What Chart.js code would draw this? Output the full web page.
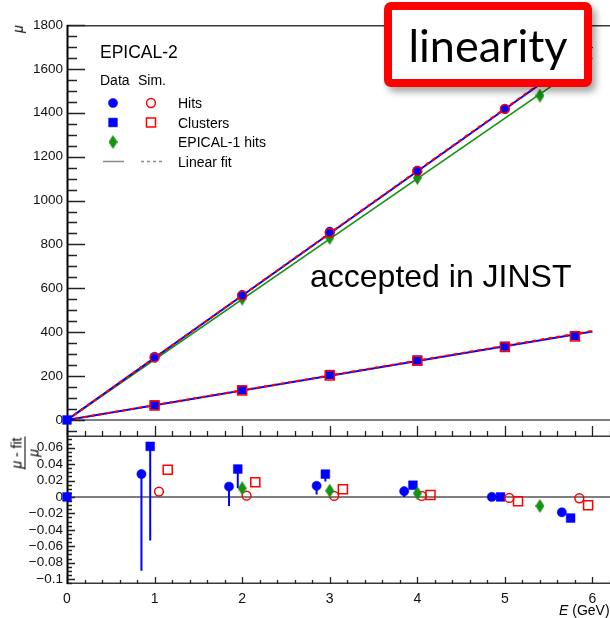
<!DOCTYPE html>
<html><head><meta charset="utf-8">
<script src="https://cdn.jsdelivr.net/npm/chart.js@4.4.1/dist/chart.umd.min.js"></script>
<style>
html,body{margin:0;padding:0;background:#fff;}
#wrap{position:relative;width:610px;height:618px;overflow:hidden;font-family:"Liberation Sans",Arial,sans-serif;color:#000;}
canvas{position:absolute;left:0;}
.t{position:absolute;line-height:1;white-space:nowrap;transform:translateY(-50%);}
#linbox{position:absolute;left:384px;top:2px;width:192px;height:69px;border:8px solid #ff0000;border-radius:7px;background:#fff;box-shadow:4px 5px 7px rgba(0,0,0,0.35);display:flex;align-items:center;justify-content:center;font-family:Lato,"Open Sans",sans-serif;font-size:45px;color:#000;}
</style></head><body>
<div id="wrap">
<canvas id="up" width="610" height="437" style="top:0;width:610px;height:437px"></canvas>
<canvas id="lo" width="610" height="181" style="top:437px;width:610px;height:181px"></canvas>

<div class="t" style="left:100px;top:53px;font-size:17.5px">EPICAL-2</div>
<div class="t" style="left:100px;top:80px;font-size:14px">Data</div>
<div class="t" style="left:138px;top:80px;font-size:14px">Sim.</div>
<div class="t" style="left:178px;top:103px;font-size:14px">Hits</div>
<div class="t" style="left:178px;top:122.5px;font-size:14px">Clusters</div>
<div class="t" style="left:178px;top:142px;font-size:14px">EPICAL-1 hits</div>
<div class="t" style="left:178px;top:161.5px;font-size:14px">Linear fit</div>

<div class="t" style="left:310px;top:276px;font-size:32px">accepted in JINST</div>

<div class="t" style="left:14px;top:29px;font-size:14px;font-style:italic;transform:translateY(-50%) rotate(-90deg)">μ</div>
<div style="position:absolute;left:25px;top:453px;transform:translate(-50%,-50%) rotate(-90deg);display:flex;flex-direction:column;align-items:center;font-size:14px;line-height:1;">
  <div style="white-space:nowrap;padding:0 1px 1px 1px"><i>μ</i> - fit</div>
  <div style="border-top:1px solid #000;width:100%;text-align:center;padding-top:1px"><i>μ</i></div>
</div>
<div class="t" style="left:559px;top:610px;font-size:14px"><i>E</i> (GeV)</div>

<div id="linbox">linearity</div>
</div>
<script>
// ---------------- data ----------------
const energies = [1, 2, 3, 4, 5, 5.8];
const epical1Energies = [2, 3, 4, 5.4];
const originE = [0];
const originVal = [0];

const hitsData = [288, 570, 858, 1137, 1417, 1640];
const hitsSim = [284, 567, 853, 1134, 1418, 1645];
const clustersData = [68, 137, 207, 273, 336, 384];
const clustersSim = [66, 134, 203, 270, 333, 381];
const epical1Hits = [553, 830, 1103, 1478];

const fitRange = [0, 6];
const fitHitsData = [0, 1700];
const fitHitsSim = [0, 1703];
const fitClustersData = [0, 403];
const fitClustersSim = [0, 406];
const fitEpical1 = [0, 1650];

const resHitsData = [0.0278, 0.0126, 0.0135, 0.007, 0.0, -0.0187];
const resHitsDataBarEnd = [-0.090, -0.011, 0.003, 0.0, null, -0.0138];
const resClustersData = [0.0616, 0.034, 0.0278, 0.0143, 0.0, -0.0257];
const resClustersDataBarEnd = [-0.053, 0.0106, 0.0187, null, null, null];
const resEpical1 = [0.0106, 0.0077, 0.0045, -0.011];
const resHitsSim = [0.0065, 0.0016, 0.0012, 0.0012, -0.0012, -0.0016];
const resClustersSim = [0.033, 0.018, 0.0094, 0.0024, -0.0053, -0.0102];

const xTickValues = [0, 1, 2, 3, 4, 5, 6];
const xTickLabels = ['0', '1', '2', '3', '4', '5', '6'];
const upperYTickValues = [0, 200, 400, 600, 800, 1000, 1200, 1400, 1600, 1800];
const upperYTickLabels = ['0', '200', '400', '600', '800', '1000', '1200', '1400', '1600', '1800'];
const lowerYTickValues = [0.06, 0.04, 0.02, 0, -0.02, -0.04, -0.06, -0.08, -0.1];
const lowerYTickLabels = ['0.06', '0.04', '0.02', '0', '\u22120.02', '\u22120.04', '\u22120.06', '\u22120.08', '\u22120.1'];

// ---------------- styling ----------------
const BLUE = '#0000ff', RED = '#ff0000', GREEN = '#139413', GRAY = '#8a8a8a';
const FONT = '"Liberation Sans", Arial, sans-serif';
const offsets = {hitsData: -0.15, clustersData: -0.05, epical1: 0, hitsSim: 0.05, clustersSim: 0.15};

// tall diamond marker (ROOT style 33)
function makeDiamond(w, h, color) {
  const c = document.createElement('canvas');
  c.width = w; c.height = h;
  const g = c.getContext('2d');
  g.fillStyle = color;
  g.beginPath();
  g.moveTo(w / 2, 0); g.lineTo(w, h / 2); g.lineTo(w / 2, h); g.lineTo(0, h / 2); g.closePath();
  g.fill();
  return c;
}
const diamond = makeDiamond(9, 14, GREEN);

function pts(xs, ys, off) {
  return xs.map((x, i) => ({x: x + (off || 0), y: ys[i]})).filter(p => p.y !== null);
}
const markerBlueCircle = {pointStyle: 'circle', pointRadius: 4.6, pointBackgroundColor: BLUE, pointBorderColor: BLUE, pointBorderWidth: 0.5, showLine: false};
const markerBlueSquare = {pointStyle: 'rect', pointRadius: 6.2, pointBackgroundColor: BLUE, pointBorderColor: BLUE, pointBorderWidth: 0.5, showLine: false};
const markerRedCircle = {pointStyle: 'circle', pointRadius: 4.4, pointBackgroundColor: 'rgba(0,0,0,0)', pointBorderColor: RED, pointBorderWidth: 1.5, showLine: false};
const markerRedSquare = {pointStyle: 'rect', pointRadius: 6.4, pointBackgroundColor: 'rgba(0,0,0,0)', pointBorderColor: RED, pointBorderWidth: 1.5, showLine: false};
const markerGreen = {pointStyle: diamond, pointRadius: 6, showLine: false};

function tickPlugin(opts) {
  return {
    id: 'frame' + opts.name,
    beforeDatasetsDraw(chart) {
      const ctx = chart.ctx, ca = chart.chartArea, xs = chart.scales.x, ys = chart.scales.y;
      ctx.save();
      // zero line
      ctx.strokeStyle = '#555'; ctx.lineWidth = 1.5;
      const y0 = ys.getPixelForValue(0);
      ctx.beginPath(); ctx.moveTo(ca.left, y0); ctx.lineTo(ca.right, y0); ctx.stroke();
      // frame lines
      ctx.strokeStyle = '#3a3a3a'; ctx.lineWidth = 1.5;
      ctx.beginPath();
      if (opts.top) { ctx.moveTo(ca.left, ca.top + 0.75); ctx.lineTo(ca.right, ca.top + 0.75); }
      ctx.moveTo(ca.left, ca.bottom - 0.75); ctx.lineTo(ca.right, ca.bottom - 0.75);
      ctx.stroke();
      // y ticks
      ctx.strokeStyle = '#222'; ctx.lineWidth = 1.3;
      ctx.beginPath();
      const n = Math.round((opts.yMax - opts.yMinTick) / opts.yMinor);
      for (let i = 0; i <= n; i++) {
        const v = opts.yMinTick + i * opts.yMinor;
        const isMajor = Math.abs(v / opts.yMajor - Math.round(v / opts.yMajor)) < 1e-6;
        const y = Math.round(ys.getPixelForValue(v)) + 0.5;
        if (y < ca.top - 1 || y > ca.bottom + 1) continue;
        ctx.moveTo(ca.left, y); ctx.lineTo(ca.left + (isMajor ? opts.yMajLen : opts.yMinLen), y);
      }
      // x ticks at bottom pointing up
      for (let i = 0; i <= 31; i++) {
        const v = i * 0.2;
        if (v > 6.2) break;
        const isMajor = i % 5 === 0;
        const x = Math.round(xs.getPixelForValue(v)) + 0.5;
        ctx.moveTo(x, ca.bottom); ctx.lineTo(x, ca.bottom - (isMajor ? opts.xMajLen : opts.xMinLen));
      }
      ctx.stroke();
      // y axis line
      ctx.strokeStyle = '#000'; ctx.lineWidth = 2;
      ctx.beginPath(); ctx.moveTo(ca.left + 0.5, ca.top); ctx.lineTo(ca.left + 0.5, ca.bottom); ctx.stroke();
      if (opts.errorBars) opts.errorBars(chart);
      ctx.restore();
    },
    afterDatasetsDraw(chart) { if (opts.after) opts.after(chart); }
  };
}

function drawLegend(chart) {
  const ctx = chart.ctx;
  const H = Chart.helpers;
  ctx.save();
  function pt(style, r, fill, stroke, bw, x, y) {
    ctx.fillStyle = fill; ctx.strokeStyle = stroke; ctx.lineWidth = bw;
    H.drawPoint(ctx, {pointStyle: style, radius: r, rotation: 0, borderWidth: bw}, x, y);
  }
  pt('circle', 4.6, BLUE, BLUE, 0.5, 113, 103);
  pt('circle', 4.4, 'rgba(0,0,0,0)', RED, 1.5, 151, 103);
  pt('rect', 6.2, BLUE, BLUE, 0.5, 113, 122.5);
  pt('rect', 6.4, 'rgba(0,0,0,0)', RED, 1.5, 151, 122.5);
  ctx.drawImage(diamond, 113 - 4.5, 142 - 7);
  ctx.strokeStyle = GRAY; ctx.lineWidth = 1.5;
  ctx.beginPath(); ctx.moveTo(103, 161.5); ctx.lineTo(124, 161.5); ctx.stroke();
  ctx.setLineDash([3, 3]);
  ctx.beginPath(); ctx.moveTo(141, 161.5); ctx.lineTo(162, 161.5); ctx.stroke();
  ctx.restore();
}

const common = {
  responsive: false, animation: false, devicePixelRatio: 1,
  events: [],
  plugins: {legend: {display: false}, tooltip: {enabled: false}},
};

// ---------------- upper panel ----------------
new Chart(document.getElementById('up'), {
  type: 'scatter',
  data: {datasets: [
    {data: pts(fitRange, fitEpical1), showLine: true, borderColor: GREEN, borderWidth: 1.6, pointRadius: 0, order: 8},
    {data: pts(fitRange, fitHitsData), showLine: true, borderColor: BLUE, borderWidth: 2, pointRadius: 0, order: 7},
    {data: pts(fitRange, fitClustersData), showLine: true, borderColor: BLUE, borderWidth: 2, pointRadius: 0, order: 7},
    {data: pts(fitRange, fitHitsSim), showLine: true, borderColor: RED, borderWidth: 2, borderDash: [4, 4], pointRadius: 0, order: 6},
    {data: pts(fitRange, fitClustersSim), showLine: true, borderColor: RED, borderWidth: 2, borderDash: [4, 4], pointRadius: 0, order: 6},
    Object.assign({data: pts(epical1Energies, epical1Hits), order: 5}, markerGreen),
    Object.assign({data: pts(energies, hitsData), order: 2}, markerBlueCircle),
    Object.assign({data: pts(energies, clustersData), order: 2}, markerBlueSquare),
    Object.assign({data: pts(originE, originVal), order: 0, clip: false}, markerBlueSquare),
    Object.assign({data: pts(energies, hitsSim), order: 1}, markerRedCircle),
    Object.assign({data: pts(energies, clustersSim), order: 1}, markerRedSquare),
  ]},
  options: Object.assign({}, common, {
    layout: {autoPadding: false, padding: {top: 25, left: 0, right: 0, bottom: 0}},
    scales: {
      x: {type: 'linear', min: 0, max: 6.2, bounds: 'data', display: false},
      y: {type: 'linear', min: -77.5, max: 1800, bounds: 'data',
        afterFit(s) { s.width = 67; s.paddingTop = 0; s.paddingBottom = 0; },
        afterBuildTicks(s) { s.ticks = upperYTickValues.map(v => ({value: v})); },
        ticks: {font: {family: FONT, size: 13.5}, color: '#111', padding: 4, autoSkip: false,
          callback: (v) => upperYTickLabels[upperYTickValues.indexOf(v)]},
        grid: {display: false, drawTicks: false}, border: {display: false}}
    }
  }),
  plugins: [tickPlugin({name: 'up', top: true, yMax: 1800, yMinTick: -50, yMinor: 50, yMajor: 200,
    yMajLen: 18, yMinLen: 10, xMajLen: 11, xMinLen: 6, after: drawLegend})]
});

// ---------------- lower panel ----------------
function drawErrorBars(chart) {
  const ctx = chart.ctx, xs = chart.scales.x, ys = chart.scales.y;
  ctx.strokeStyle = BLUE; ctx.lineWidth = 2;
  ctx.beginPath();
  energies.forEach((e, i) => {
    if (resHitsDataBarEnd[i] !== null) {
      const x = xs.getPixelForValue(e + offsets.hitsData);
      ctx.moveTo(x, ys.getPixelForValue(resHitsData[i])); ctx.lineTo(x, ys.getPixelForValue(resHitsDataBarEnd[i]));
    }
    if (resClustersDataBarEnd[i] !== null) {
      const x = xs.getPixelForValue(e + offsets.clustersData);
      ctx.moveTo(x, ys.getPixelForValue(resClustersData[i])); ctx.lineTo(x, ys.getPixelForValue(resClustersDataBarEnd[i]));
    }
  });
  ctx.stroke();
}

new Chart(document.getElementById('lo'), {
  type: 'scatter',
  data: {datasets: [
    Object.assign({data: pts(energies, resHitsData, offsets.hitsData), order: 2}, markerBlueCircle),
    Object.assign({data: pts(energies, resClustersData, offsets.clustersData), order: 2}, markerBlueSquare),
    Object.assign({data: pts(originE, originVal), order: 2, clip: false}, markerBlueSquare),
    Object.assign({data: pts(epical1Energies, resEpical1, offsets.epical1), order: 1}, markerGreen),
    Object.assign({data: pts(energies, resHitsSim, offsets.hitsSim), order: 1}, markerRedCircle),
    Object.assign({data: pts(energies, resClustersSim, offsets.clustersSim), order: 1}, markerRedSquare),
  ]},
  options: Object.assign({}, common, {
    layout: {autoPadding: false, padding: {top: 0, left: 0, right: 0, bottom: 0}},
    scales: {
      x: {type: 'linear', min: 0, max: 6.2, bounds: 'data', position: 'bottom',
        afterFit(s) { s.height = 34; s.paddingLeft = 0; s.paddingRight = 0; },
        afterBuildTicks(s) { s.ticks = xTickValues.map(v => ({value: v})); },
        ticks: {font: {family: FONT, size: 14}, color: '#111', padding: 7, maxRotation: 0, autoSkip: false,
          callback: (v) => xTickLabels[xTickValues.indexOf(v)]},
        grid: {display: false, drawTicks: false}, border: {display: false}},
      y: {type: 'linear', min: -0.106, max: 0.073, bounds: 'data',
        afterFit(s) { s.width = 67; s.paddingTop = 0; s.paddingBottom = 0; },
        afterBuildTicks(s) { s.ticks = lowerYTickValues.map(v => ({value: v})); },
        ticks: {font: {family: FONT, size: 13.5}, color: '#111', padding: 4, autoSkip: false,
          callback: (v) => lowerYTickLabels[lowerYTickValues.indexOf(v)]},
        grid: {display: false, drawTicks: false}, border: {display: false}}
    }
  }),
  plugins: [tickPlugin({name: 'lo', top: false, yMax: 0.07, yMinTick: -0.105, yMinor: 0.005, yMajor: 0.02,
    yMajLen: 8, yMinLen: 5, xMajLen: 7, xMinLen: 4, errorBars: drawErrorBars})]
});
</script>
</body></html>
